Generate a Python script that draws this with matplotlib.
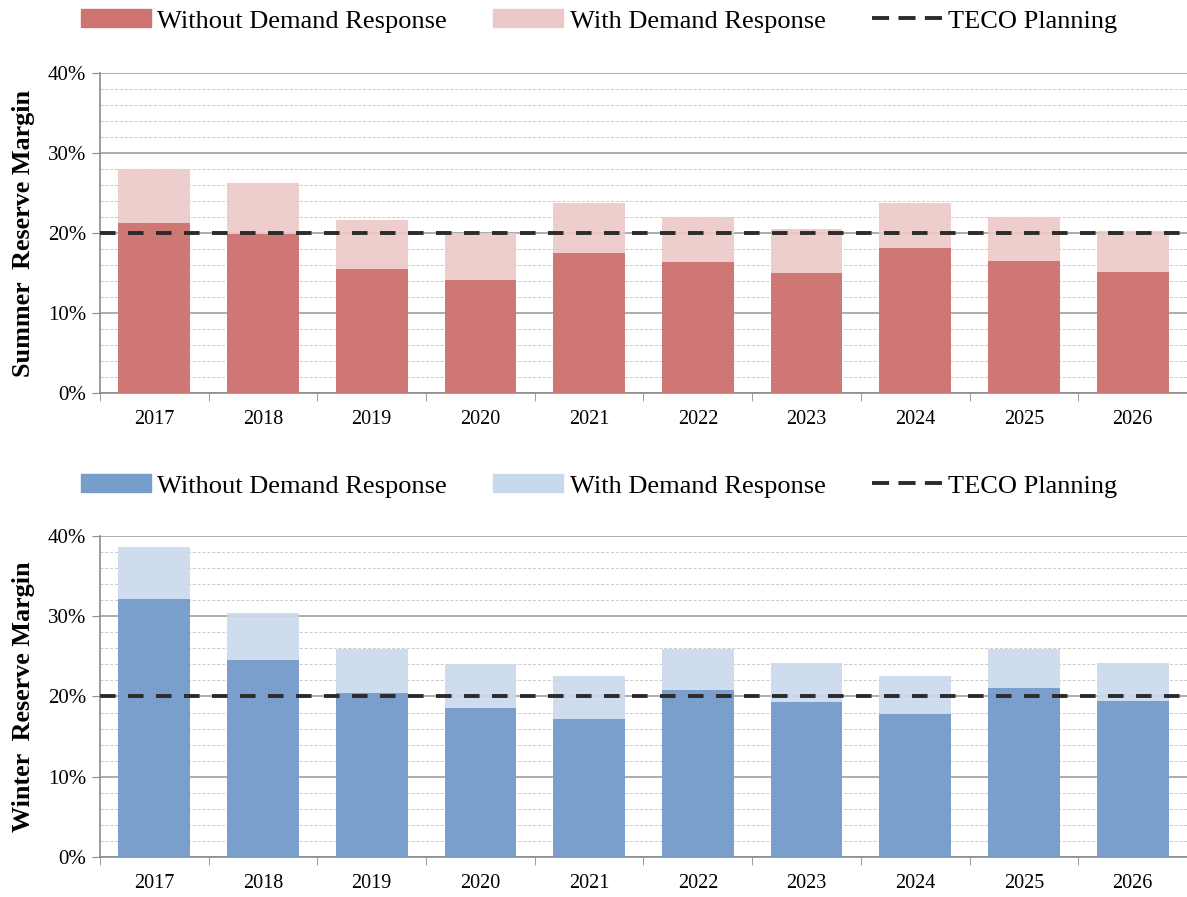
import matplotlib.pyplot as plt
import matplotlib.patches as mpatches
import matplotlib.lines as mlines
import numpy as np
from matplotlib.ticker import MultipleLocator, FuncFormatter

years = ['2017', '2018', '2019', '2020', '2021', '2022', '2023', '2024', '2025', '2026']

# reserve margins in percent
summer_without = [21.3, 19.9, 15.5, 14.1, 17.5, 16.4, 15.0, 18.1, 16.5, 15.1]
summer_with = [28.0, 26.3, 21.6, 20.0, 23.8, 22.0, 20.5, 23.7, 22.0, 20.3]
winter_without = [32.2, 24.5, 20.4, 18.6, 17.2, 20.8, 19.3, 17.8, 21.0, 19.4]
winter_with = [38.6, 30.4, 25.9, 24.0, 22.5, 25.9, 24.2, 22.6, 25.9, 24.2]
teco_planning = 20

plt.rcParams['font.family'] = ['Liberation Serif', 'DejaVu Serif']

fig = plt.figure(figsize=(11.87, 8.97), dpi=100)
ax_s = fig.add_axes([0.0842, 0.5619, 0.9158, 0.3567])
ax_w = fig.add_axes([0.0842, 0.0446, 0.9158, 0.3579])


def draw_panel(ax, without, with_dr, dark, light, ylabel, legend_y):
    x = np.arange(len(years))
    ax.bar(x, with_dr, width=0.66, color=light, alpha=0.9, zorder=2)
    ax.bar(x, without, width=0.66, color=dark, alpha=0.96, zorder=3)
    ax.axhline(teco_planning, color='#2b2b2b', lw=2.8, dashes=(4, 3.2), zorder=4)

    ax.set_xlim(-0.5, len(years) - 0.5)
    ax.set_ylim(0, 40)
    ax.yaxis.set_major_locator(MultipleLocator(10))
    ax.yaxis.set_minor_locator(MultipleLocator(2))
    ax.yaxis.set_major_formatter(FuncFormatter(lambda v, p: '%d%%' % v))
    ax.grid(axis='y', which='major', color='#a6a6a6', lw=1.3, zorder=0)
    ax.grid(axis='y', which='minor', color='#c8c8c8', lw=0.7, ls=(0, (3, 2)), zorder=0)
    ax.set_axisbelow(True)

    ax.set_xticks(x)
    ax.set_xticklabels(years)
    ax.set_xticks(np.arange(-0.5, len(years), 1), minor=True)
    ax.tick_params(axis='x', which='major', length=0, pad=12, labelsize=14.5)
    ax.tick_params(axis='x', which='minor', length=6, color='#8c8c8c')
    ax.tick_params(axis='y', which='major', length=6, color='#8c8c8c', labelsize=15, pad=4)
    ax.tick_params(axis='y', which='minor', length=0)

    for side in ['top', 'right']:
        ax.spines[side].set_visible(False)
    for side in ['left', 'bottom']:
        ax.spines[side].set_color('#8c8c8c')
        ax.spines[side].set_linewidth(1.2)

    ax.set_ylabel(ylabel, fontsize=18.8, fontweight='bold', labelpad=9)

    handles = [
        mpatches.Patch(color=dark, label='Without Demand Response'),
        mpatches.Patch(color=light, label='With Demand Response'),
        mlines.Line2D([], [], color='#2b2b2b', lw=2.8, dashes=(4.4, 2.4), label='TECO Planning'),
    ]
    fig.legend(handles=handles, loc='center', bbox_to_anchor=(0.5046, legend_y), ncol=3,
               frameon=False, fontsize=19, handlelength=2.65, handleheight=0.65,
               columnspacing=1.75, handletextpad=0.25)


draw_panel(ax_s, summer_without, summer_with, '#cd7472', '#edc8c8',
           'Summer  Reserve Margin', 1 - 21 / 897)
draw_panel(ax_w, winter_without, winter_with, '#779dcb', '#c9d9ec',
           'Winter  Reserve Margin', 1 - 486 / 897)

fig.savefig('out.png', dpi=100)
